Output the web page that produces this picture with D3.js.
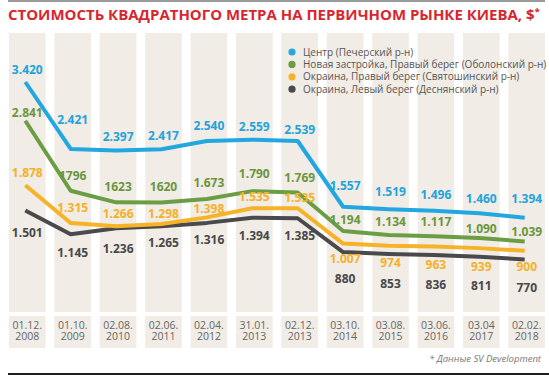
<!DOCTYPE html>
<html>
<head>
<meta charset="utf-8">
<script src="https://cdnjs.cloudflare.com/ajax/libs/d3/7.8.5/d3.min.js"></script>
<style>
  body { margin: 0; background: #fff; }
  svg { display: block; font-family: "Open Sans", sans-serif; }
</style>
</head>
<body>
<div id="chart"></div>
<script>
// dates (two-line labels)
const dates = ["01.12.|2008", "01.10.|2009", "02.08.|2010", "02.06.|2011", "02.04.|2012", "31.01.|2013",
  "02.12.|2013", "03.10.|2014", "03.08.|2015", "03.06.|2016", "03.04|2017", "02.02.|2018"];

const center = [3420, 2421, 2397, 2417, 2540, 2559, 2539, 1557, 1519, 1496, 1460, 1394];
const newBuild = [2841, 1796, 1623, 1620, 1673, 1790, 1769, 1194, 1134, 1117, 1090, 1039];
const rightBank = [1878, 1315, 1266, 1298, 1398, 1535, 1535, 1007, 974, 963, 939, 900];
const leftBank = [1501, 1145, 1236, 1265, 1316, 1394, 1385, 880, 853, 836, 811, 770];

// printed labels (as in the source, some without thousand dots)
const centerText = ["3.420", "2.421", "2.397", "2.417", "2.540", "2.559", "2.539", "1.557", "1.519", "1.496", "1.460", "1.394"];
const newBuildText = ["2.841", "1796", "1623", "1620", "1.673", "1.790", "1.769", "1.194", "1.134", "1.117", "1.090", "1.039"];
const rightBankText = ["1.878", "1.315", "1.266", "1.298", "1.398", "1.535", "1.535", "1.007", "974", "963", "939", "900"];
const leftBankText = ["1.501", "1.145", "1.236", "1.265", "1.316", "1.394", "1.385", "880", "853", "836", "811", "770"];

const seriesNames = ["Центр (Печерский р-н)", "Новая застройка, Правый берег (Оболонский р-н)",
  "Окраина, Правый берег (Святошинский р-н)", "Окраина, Левый берег (Деснянский р-н)"];

// label placement relative to the point
const labelDy = [
  [-12, -29, -14, -13, -15, -13, -11, -21, -17, -16, -14, -19],
  [-8, -15, -16, -16, -16, -17, -15, -11, -13, -14, -9, -10],
  [-12, -15, -12, -10, -9, -11, -10, 15, 17, 18, 19, 16],
  [22, 18, 21, 17, 17, 18, 18, 27, 30, 30, 29, 28]
];

const colors = ["#22a7e0", "#6b9e44", "#f6b327", "#4a4a4c"];
const textColors = ["#22a3dc", "#6a9640", "#f4b128", "#48484a"];

const W = 549, H = 376;
const svg = d3.select("#chart").append("svg")
  .attr("width", W).attr("height", H);

// frame lines
svg.append("rect").attr("x", 8).attr("y", 0).attr("width", 537).attr("height", 2).attr("fill", "#9a9a9a");
svg.append("rect").attr("x", 8).attr("y", 373).attr("width", 541).attr("height", 2).attr("fill", "#1e1e1e");

svg.append("text")
  .attr("x", 8).attr("y", 20)
  .attr("textLength", 532).attr("lengthAdjust", "spacingAndGlyphs")
  .attr("font-size", 13.5).attr("font-weight", 700)
  .attr("fill", "#d8262e")
  .text("СТОИМОСТЬ КВАДРАТНОГО МЕТРА НА ПЕРВИЧНОМ РЫНКЕ КИЕВА, $")
  .append("tspan").attr("font-size", 9).attr("dy", -5).text("*");

const x = d3.scaleBand()
  .domain(d3.range(dates.length))
  .range([9, 545])
  .paddingInner(0.194)
  .paddingOuter(0);

const y = d3.scaleLinear()
  .domain([0, 3420])
  .range([311, 82]);

// column backgrounds
svg.append("g").selectAll("rect")
  .data(dates)
  .join("rect")
  .attr("x", (d, i) => x(i))
  .attr("y", 33)
  .attr("width", x.bandwidth())
  .attr("height", 279)
  .attr("fill", "#f1ece5");

// date boxes
const dateG = svg.append("g").selectAll("g")
  .data(dates)
  .join("g")
  .attr("transform", (d, i) => `translate(${x(i)},316)`);

dateG.append("rect")
  .attr("width", x.bandwidth())
  .attr("height", 32)
  .attr("fill", "#f1ece5");

dateG.append("text")
  .attr("x", x.bandwidth() / 2)
  .attr("text-anchor", "middle")
  .attr("font-size", 10.5)
  .attr("fill", "#666")
  .selectAll("tspan")
  .data(d => d.split("|"))
  .join("tspan")
  .attr("x", x.bandwidth() / 2)
  .attr("y", (d, i) => 12.5 + i * 11)
  .text(d => d);

const cx = i => x(i) + x.bandwidth() / 2 - 2;

const series = [center, newBuild, rightBank, leftBank];
const texts = [centerText, newBuildText, rightBankText, leftBankText];

const line = d3.line()
  .x((d, i) => cx(i))
  .y(d => y(d));

// draw lines from bottom series up
[3, 2, 1, 0].forEach(k => {
  svg.append("path")
    .datum(series[k])
    .attr("d", line)
    .attr("fill", "none")
    .attr("stroke", colors[k])
    .attr("stroke-width", 4)
    .attr("stroke-linejoin", "round");
});

series.forEach((s, k) => {
  svg.append("g").selectAll("text")
    .data(s)
    .join("text")
    .attr("x", (d, i) => x(i) + x.bandwidth() / 2)
    .attr("y", (d, i) => y(d) + labelDy[k][i])
    .attr("dy", "0.35em")
    .attr("text-anchor", "middle")
    .attr("font-size", 12)
    .attr("font-weight", 700)
    .attr("fill", textColors[k])
    .text((d, i) => texts[k][i]);
});

// legend
const legend = svg.append("g").attr("transform", "translate(292,52)");
const item = legend.selectAll("g")
  .data(seriesNames)
  .join("g")
  .attr("transform", (d, i) => `translate(0,${i * 12.4})`);
item.append("circle").attr("r", 3.6).attr("fill", (d, i) => colors[i]);
item.append("text")
  .attr("x", 11).attr("dy", "0.35em")
  .attr("font-size", 10)
  .attr("fill", "#555")
  .text(d => d);

// footnote
svg.append("text")
  .attr("x", 541).attr("y", 362)
  .attr("text-anchor", "end")
  .attr("font-size", 9.5)
  .attr("font-style", "italic")
  .attr("fill", "#777")
  .text("* Данные SV Development");
</script>
</body>
</html>
